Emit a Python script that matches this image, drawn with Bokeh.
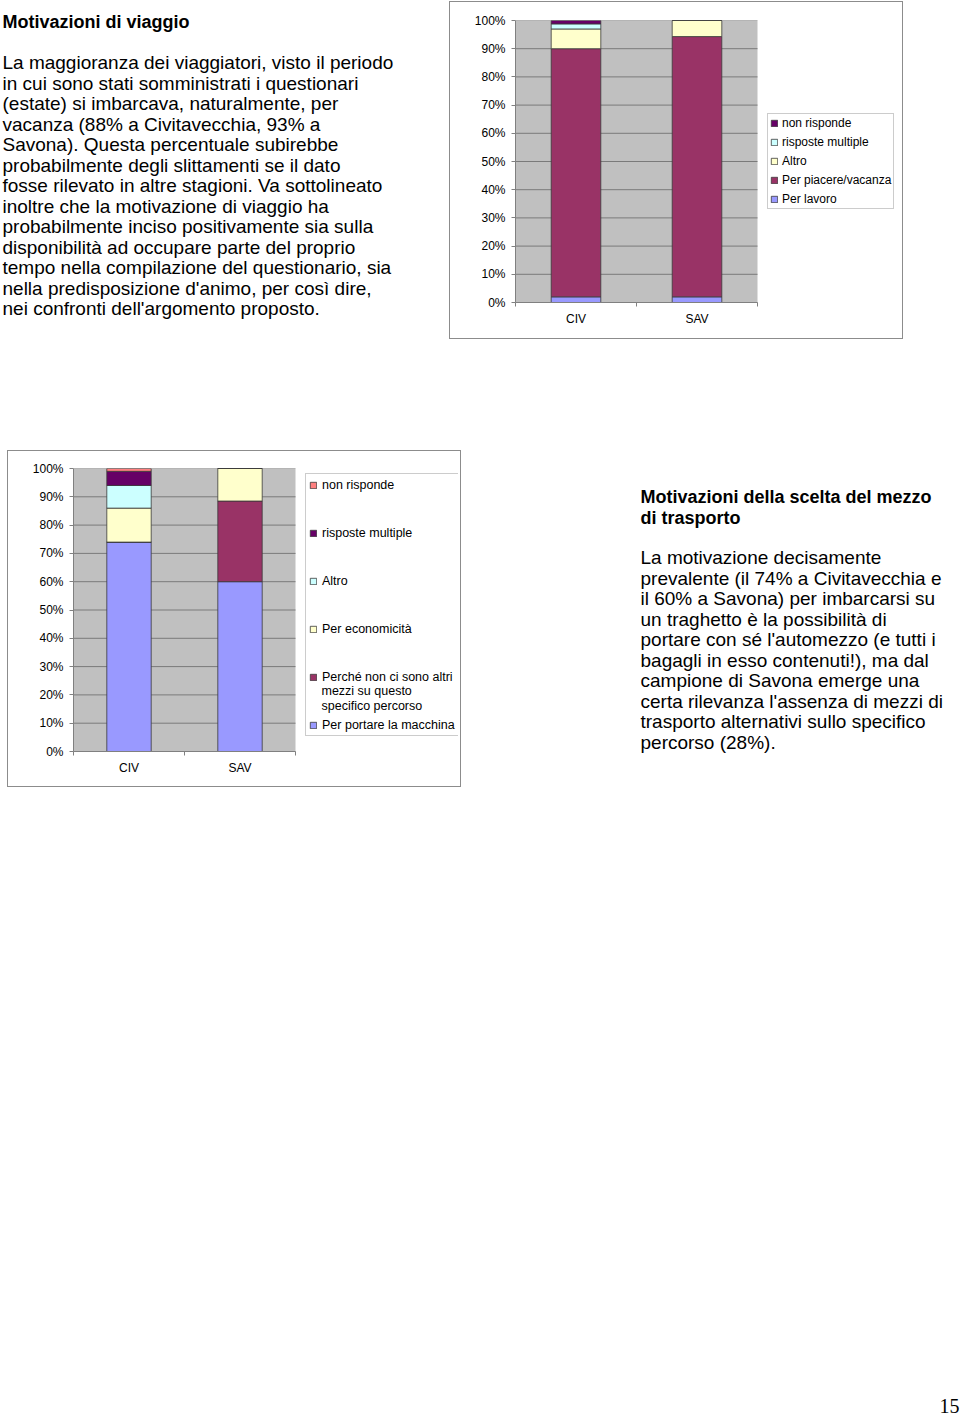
from bokeh.plotting import figure
from bokeh.layouts import column, row, Spacer
from bokeh.models import (Range1d, FixedTicker, PrintfTickFormatter, Legend,
                          LegendItem, ColumnDataSource)
from bokeh.core.properties import value
from bokeh.embed import file_html
from bokeh.resources import INLINE

# ---------------- data ----------------
categories = ["CIV", "SAV"]
y_ticks = [0, 10, 20, 30, 40, 50, 60, 70, 80, 90, 100]

# Chart 1: Motivazioni di viaggio (stack order bottom -> top)
c1_series = ["Per lavoro", "Per piacere/vacanza", "Altro", "risposte multiple", "non risponde"]
c1_lavoro = [2.0, 2.0]
c1_piacere = [88.0, 92.3]
c1_altro = [7.0, 5.7]
c1_multiple = [1.8, 0.0]
c1_nonrisp = [1.2, 0.0]
c1_colors = ["#9999FF", "#993366", "#FFFFCC", "#CCFFFF", "#660066"]

# Chart 2: Motivazioni della scelta del mezzo di trasporto
c2_series = ["Per portare la macchina", "Perché non ci sono altri",
             "Per economicità", "Altro", "risposte multiple", "non risponde"]
c2_series_cont = ["mezzi su questo", "specifico percorso"]   # rest of the 2nd label
c2_macchina = [74.0, 60.0]
c2_altri_mezzi = [0.0, 28.5]
c2_economicita = [12.0, 11.5]
c2_altro = [8.0, 0.0]
c2_multiple = [5.0, 0.0]
c2_nonrisp = [1.0, 0.0]
c2_colors = ["#9999FF", "#993366", "#FFFFCC", "#CCFFFF", "#660066", "#FF8080"]

title_left = "Motivazioni di viaggio"
body_left = [
    "La maggioranza dei viaggiatori, visto il periodo",
    "in cui sono stati somministrati i questionari",
    "(estate) si imbarcava, naturalmente, per",
    "vacanza (88% a Civitavecchia, 93% a",
    "Savona). Questa percentuale subirebbe",
    "probabilmente degli slittamenti se il dato",
    "fosse rilevato in altre stagioni. Va sottolineato",
    "inoltre che la motivazione di viaggio ha",
    "probabilmente inciso positivamente sia sulla",
    "disponibilità ad occupare parte del proprio",
    "tempo nella compilazione del questionario, sia",
    "nella predisposizione d'animo, per così dire,",
    "nei confronti dell'argomento proposto.",
]
title_right = ["Motivazioni della scelta del mezzo", "di trasporto"]
body_right = [
    "La motivazione decisamente",
    "prevalente (il 74% a Civitavecchia e",
    "il 60% a Savona) per imbarcarsi su",
    "un traghetto è la possibilità di",
    "portare con sé l'automezzo (e tutti i",
    "bagagli in esso contenuti!), ma dal",
    "campione di Savona emerge una",
    "certa rilevanza l'assenza di mezzi di",
    "trasporto alternativi sullo specifico",
    "percorso (28%).",
]
page_number = "15"

FONT = "Liberation Sans"
EDGE = {"background-color": "#8c8c8c"}


def grey(w, h):
    return Spacer(width=w, height=h, styles=EDGE)


def text_panel(width, height):
    p = figure(width=width, height=height, x_range=Range1d(0, width),
               y_range=Range1d(height, 0), output_backend="svg",
               toolbar_location=None, x_axis_location=None, y_axis_location=None,
               min_border=0, frame_align=False)
    p.grid.visible = False
    p.outline_line_color = None
    return p


def add_lines(p, x, y0, pitch, lines, size, bold=False):
    p.text(x=[x] * len(lines), y=[y0 + i * pitch for i in range(len(lines))],
           text=lines, text_font=value(FONT), text_font_size=size,
           text_font_style="bold" if bold else "normal",
           text_baseline="middle", text_align="left", text_color="black")


def bar_chart(width, height, left, plot_w, top, bottom, series, values, colors,
              bar_w, legend_kw, legend_loc):
    """Frame spans the grey plot area plus the legend zone to its right;
    the grey area covers x in [0, n] and y in [0, 100]."""
    n = len(categories)
    frame_w = width - left - 2
    x_end = n * frame_w / plot_w
    xs = [i + 0.5 for i in range(n)]
    data = {"x": xs}
    keys = []
    for i, v in enumerate(values):
        k = "s%d" % i
        data[k] = v
        keys.append(k)
    src = ColumnDataSource(data)
    p = figure(width=width, height=height, x_range=Range1d(0, x_end),
               y_range=Range1d(0, 100), output_backend="svg", toolbar_location=None,
               min_border_left=left, min_border_right=2, min_border_top=top,
               min_border_bottom=bottom, frame_align=False)
    p.background_fill_color = "white"
    p.border_fill_color = "white"
    p.outline_line_color = None
    p.grid.visible = False
    # plot area and gridlines
    p.quad(left=[0], right=[n], bottom=[0], top=[100], fill_color="#C0C0C0",
           line_color=None, level="image")
    p.segment(x0=[0] * len(y_ticks), x1=[n] * len(y_ticks), y0=y_ticks, y1=y_ticks,
              line_color="#7A7A7A", line_width=1, level="underlay")
    rs = p.vbar_stack(keys, x="x", width=bar_w, source=src, fill_color=colors,
                      line_color="#3a3a3a", line_width=0.8)
    # axes
    p.xaxis.bounds = (0, n)
    p.xaxis.ticker = FixedTicker(ticks=xs, minor_ticks=list(range(n + 1)))
    p.xaxis.major_label_overrides = {x: c for x, c in zip(xs, categories)}
    p.xaxis.major_tick_line_color = None
    p.xaxis.major_tick_out = 0
    p.xaxis.major_tick_in = 0
    p.xaxis.minor_tick_line_color = "#808080"
    p.xaxis.minor_tick_in = 0
    p.xaxis.minor_tick_out = 4
    p.xaxis.axis_line_color = "#808080"
    p.xaxis.major_label_standoff = 5
    p.xaxis.major_label_text_font = FONT
    p.xaxis.major_label_text_font_size = "12px"
    p.xaxis.major_label_text_color = "black"
    p.yaxis.ticker = FixedTicker(ticks=y_ticks, minor_ticks=[])
    p.yaxis.formatter = PrintfTickFormatter(format="%d%%")
    p.yaxis.major_tick_in = 0
    p.yaxis.major_tick_out = 4
    p.yaxis.major_label_standoff = 6
    p.yaxis.major_tick_line_color = "#808080"
    p.yaxis.axis_line_color = "#808080"
    p.yaxis.major_label_text_font = FONT
    p.yaxis.major_label_text_font_size = "12px"
    p.yaxis.major_label_text_color = "black"
    items = [LegendItem(label=s, renderers=[r]) for s, r in zip(series, rs)][::-1]
    leg = Legend(items=items, location=legend_loc, orientation="vertical",
                 label_text_font=FONT, label_text_color="black",
                 border_line_color="#999999", background_fill_color="white",
                 background_fill_alpha=0.0, margin=0, **legend_kw)
    p.add_layout(leg, "center")
    return p, x_end


# ---------------- row 1 (page y 2..337) ----------------
t1 = text_panel(449, 336)
add_lines(t1, 2, 19, 20.5, [title_left], "18px", bold=True)
add_lines(t1, 2, 60, 20.5, body_left, "19px")

c1, _ = bar_chart(452, 336, 65, 242, 18, 36, c1_series,
                  [c1_lavoro, c1_piacere, c1_altro, c1_multiple, c1_nonrisp],
                  c1_colors, 0.41,
                  dict(label_text_font_size="12px", glyph_width=8, glyph_height=8,
                       label_height=14, label_standoff=4, spacing=5, padding=2),
                  (252, 93))

edge1 = row(Spacer(width=449, height=1), grey(454, 1), Spacer(width=57, height=1))
row1 = row(t1, grey(1, 336), c1, grey(1, 336), Spacer(width=57, height=336))
edge1b = row(Spacer(width=449, height=1), grey(454, 1), Spacer(width=57, height=1))

# ---------------- row 2 (page y 451..785) ----------------
C2_W, C2_H, C2_LEFT, C2_PLOT_W, C2_TOP, C2_BOTTOM = 452, 335, 65, 222, 17, 35
c2, c2_xend = bar_chart(C2_W, C2_H, C2_LEFT, C2_PLOT_W, C2_TOP, C2_BOTTOM, c2_series,
                        [c2_macchina, c2_altri_mezzi, c2_economicita, c2_altro,
                         c2_multiple, c2_nonrisp],
                        c2_colors, 0.40,
                        dict(label_text_font_size="12.5px", glyph_width=8, glyph_height=8,
                             label_height=15, label_standoff=5, spacing=33, padding=3),
                        (232, 15))
# continuation lines of the wrapped legend label (legend text column, below its first line)
frame_bottom = C2_H - C2_BOTTOM
px_x = C2_PLOT_W / len(categories)
px_y = (C2_H - C2_TOP - C2_BOTTOM) / 100.0
cont_x = (313 - C2_LEFT) / px_x
c2.text(x=[cont_x] * len(c2_series_cont),
        y=[(frame_bottom - sy) / px_y for sy in (239, 254)],
        text=c2_series_cont, text_font=value(FONT), text_font_size="12.5px",
        text_baseline="middle", text_align="left", text_color="black")

t2 = text_panel(499, 335)
add_lines(t2, 179, 45, 21, title_right, "18px", bold=True)
add_lines(t2, 179, 106, 20.55, body_right, "19px")

edge2 = row(Spacer(width=7, height=1), grey(454, 1), Spacer(width=499, height=1))
row2 = row(Spacer(width=7, height=335), grey(1, 335), c2, grey(1, 335), t2)
edge2b = row(Spacer(width=7, height=1), grey(454, 1), Spacer(width=499, height=1))

# ---------------- bottom ----------------
b = text_panel(960, 629)
b.text(x=[959], y=[618], text=[page_number], text_font=value("Liberation Serif"),
       text_font_size="20px", text_baseline="middle", text_align="right",
       text_color="black")

page = column(Spacer(width=960, height=1), edge1, row1, edge1b,
              Spacer(width=960, height=111), edge2, row2, edge2b, b)

with open("out.html", "w") as f:
    f.write(file_html(page, INLINE))
